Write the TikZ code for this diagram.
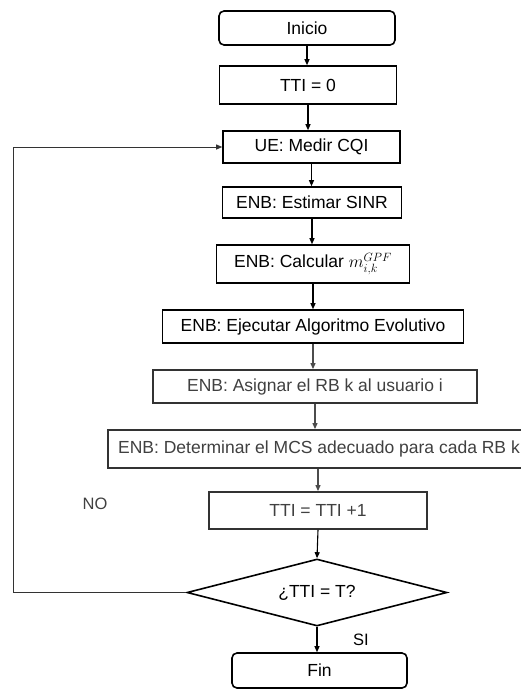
\documentclass[tikz,border=0pt]{standalone}
\usepackage{fontspec}
\setmainfont{Liberation Sans}
\usetikzlibrary{shapes.geometric,arrows.meta}
\begin{document}
\begin{tikzpicture}[x=1pt,y=-1pt,
  txt/.style={font=\fontsize{17.5}{20}\selectfont},
  box/.style={txt, draw, line width=1.6pt, inner sep=0pt, align=center},
  rbox/.style={box, rounded corners=5pt},
  gbox/.style={box, draw=black!80, line width=1.8pt, text=black!75},
  dec/.style={txt, draw, line width=1.6pt, shape=diamond, aspect=3.88, inner sep=0pt},
  arr/.style={-{Triangle[length=6pt,width=5pt]}, line width=1.1pt},
  garr/.style={arr, draw=black!70},
  lbl/.style={font=\fontsize{16.5}{18}\selectfont}
]
\fill[white] (0,0) rectangle (521,689);
\useasboundingbox (0,0) rectangle (521,689);

\node[rbox, minimum width=176pt, minimum height=34pt] (ini) at (307,28) {Inicio};
\node[box, minimum width=177pt, minimum height=38pt] (t0) at (308,85) {TTI = 0};
\node[box, minimum width=177pt, minimum height=32pt] (ue) at (311.5,147) {UE: Medir CQI};
\node[box, minimum width=179pt, minimum height=31pt] (est) at (312,202.5) {ENB: Estimar SINR};
\node[box, minimum width=193pt, minimum height=38pt] (calc) at (313,264) {ENB: Calcular $m_{i,k}^{GPF}$};
\node[box, minimum width=301pt, minimum height=33pt] (eje) at (313,326.5) {ENB: Ejecutar Algoritmo Evolutivo};
\node[gbox, minimum width=324pt, minimum height=33pt] (asi) at (315,386.5) {ENB: Asignar el RB k al usuario i};
\node[gbox, minimum width=422pt, minimum height=38pt] (det) at (319,449) {ENB: Determinar el MCS adecuado para cada RB k};
\node[gbox, minimum width=218pt, minimum height=37pt] (inc) at (318,510.5) {TTI = TTI +1};
\node[dec, minimum width=260pt, minimum height=67pt] (cmp) at (317,592.5) {¿TTI = T?};
\node[rbox, minimum width=175pt, minimum height=35pt] (fin) at (319.5,670.5) {Fin};

\node[lbl, text=black!75] (no) at (95,504) {NO};
\node[lbl] (si) at (361,640) {SI};

\coordinate (lb) at (13,592.5);
\coordinate (lt) at (13,147);

\draw[arr] (ini.south) -- (ini.south |- t0.north);
\draw[arr] (t0.south) -- (t0.south |- ue.north);
\draw[arr] (ue.south) -- (ue.south |- est.north);
\draw[arr] (est.south) -- (est.south |- calc.north);
\draw[arr] (calc.south) -- (calc.south |- eje.north);
\draw[garr] (eje.south) -- (eje.south |- asi.north);
\draw[garr] (asi.south) -- (asi.south |- det.north);
\draw[garr] (inc.north |- det.south) -- (inc.north);
\draw[arr] (inc.south) -- (cmp.north);
\draw[arr] (cmp.south) -- (cmp.south |- fin.north);
\draw[arr, line width=0.9pt, draw=black!80] (cmp.west) -- (lb) -- (lt) -- (ue.west);
\end{tikzpicture}
\end{document}
